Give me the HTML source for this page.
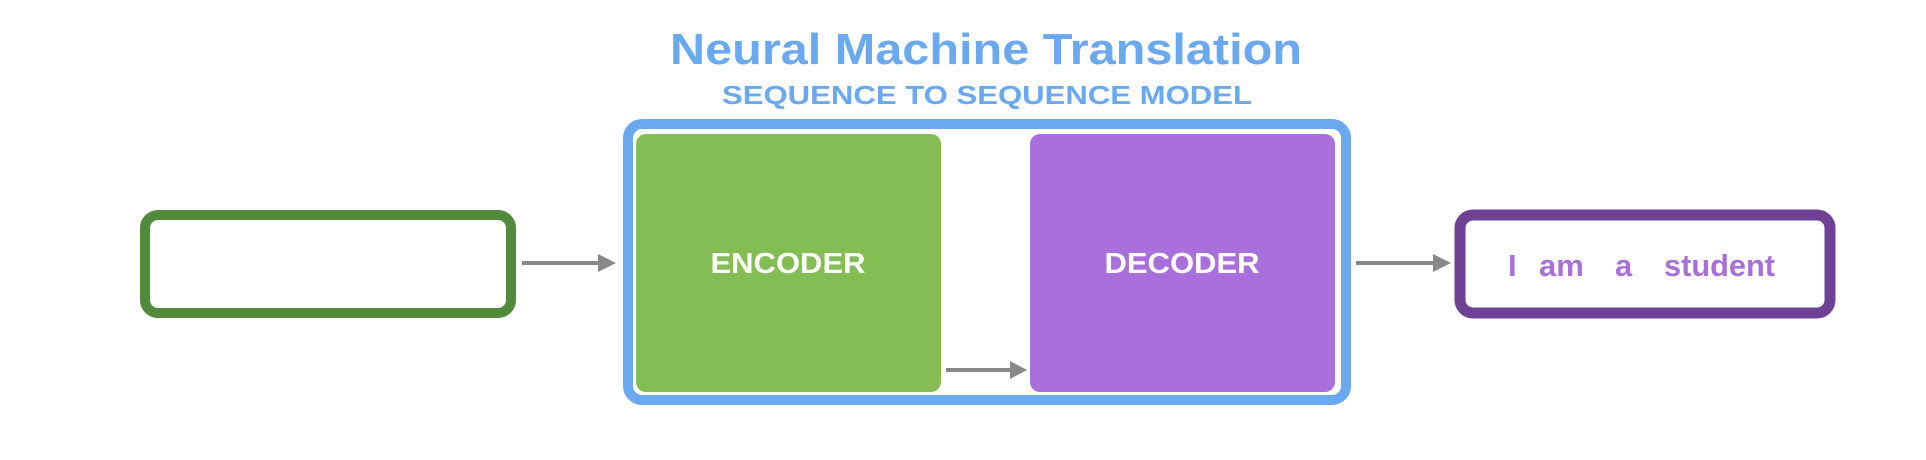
<!DOCTYPE html>
<html><head><meta charset="utf-8"><style>html,body{margin:0;padding:0;background:#fff;}svg{display:block;}</style></head>
<body>
<svg width="1926" height="460" viewBox="0 0 1926 460" xmlns="http://www.w3.org/2000/svg" font-family="Liberation Sans, Arial, sans-serif" font-weight="bold">
<text x="986" y="64" font-size="44" fill="#6aa8f0" text-anchor="middle" textLength="632" lengthAdjust="spacingAndGlyphs">Neural Machine Translation</text>
<text x="987" y="104" font-size="26" fill="#6aa8f0" text-anchor="middle" textLength="530" lengthAdjust="spacingAndGlyphs">SEQUENCE TO SEQUENCE MODEL</text>
<rect x="628" y="124" width="718" height="276" rx="14" fill="#fff" stroke="#6aa8f0" stroke-width="10"/>
<rect x="636" y="134" width="305" height="258" rx="10" fill="#84bd54"/>
<rect x="1030" y="134" width="305" height="258" rx="10" fill="#a970dc"/>
<text x="788" y="273" font-size="29" fill="#fff" text-anchor="middle" textLength="155" lengthAdjust="spacingAndGlyphs">ENCODER</text>
<text x="1182" y="273" font-size="29" fill="#fff" text-anchor="middle" textLength="155" lengthAdjust="spacingAndGlyphs">DECODER</text>
<rect x="145" y="215" width="366" height="98" rx="13" fill="#fff" stroke="#528a3b" stroke-width="10"/>
<rect x="1460" y="215" width="370" height="98" rx="13" fill="#fff" stroke="#6f4194" stroke-width="11"/>
<text x="1508" y="276" font-size="31" fill="#a970dc">I</text>
<text x="1539" y="276" font-size="31" fill="#a970dc">am</text>
<text x="1615" y="276" font-size="31" fill="#a970dc">a</text>
<text x="1664" y="276" font-size="31" fill="#a970dc" textLength="111" lengthAdjust="spacingAndGlyphs">student</text>
<g fill="#888" stroke="none">
<rect x="522" y="261" width="78" height="4"/><polygon points="598,254 616,263 598,272"/>
<rect x="946" y="368" width="66" height="4"/><polygon points="1010,361 1027,370 1010,379"/>
<rect x="1356" y="261" width="79" height="4"/><polygon points="1433,254 1451,263 1433,272"/>
</g>
</svg>
</body></html>
